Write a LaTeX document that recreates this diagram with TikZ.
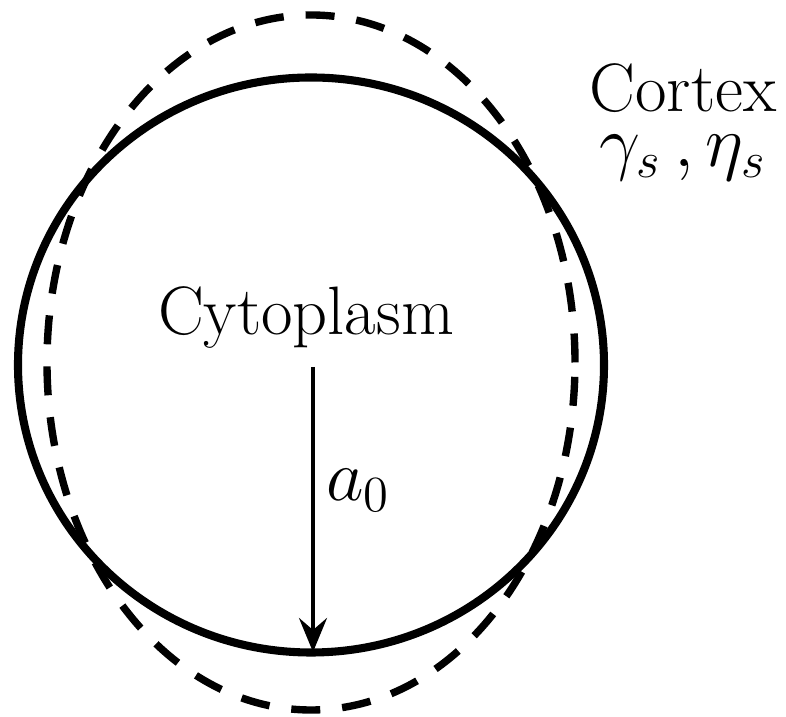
\documentclass[tikz,border=0pt]{standalone}
\usepackage{amsmath, amssymb}
\usepackage{xcolor}
\usepackage{tikz}
\usetikzlibrary{shapes.geometric, arrows.meta, positioning}
\tikzset{
  cellwall/.style={
    ellipse, draw=black, line width=2.3pt,
    inner sep=0pt, minimum width=5.86cm, minimum height=5.75cm
  },
  cortexwall/.style={
    ellipse, draw=black, line width=2.1pt,
    dash pattern=on 0.29cm off 0.22cm,
    inner sep=0pt, minimum width=5.28cm, minimum height=6.95cm
  },
  label/.style={
    font=\fontsize{19.5}{23}\selectfont, inner sep=0pt
  },
  radius/.style={
    -{Stealth[length=3.4mm,width=2.8mm,inset=1.2mm]},
    line width=1.1pt
  }
}

\begin{document}
\begin{tikzpicture}

  % ── Page frame ────────────────────────────────────────────────────────────
  \useasboundingbox (-3.11,-3.52) rectangle (4.75,3.65);

  % ── Cell outlines ─────────────────────────────────────────────────────────
  \node[cortexwall] (deformed) at (0,0.025) {};
  \node[cellwall] (cell) at (0,0) {};

  % ── Labels ────────────────────────────────────────────────────────────────
  \node[label] (cyto) at (-0.05,0.47) {Cytoplasm};
  \node[label] (cortex) at (3.72,2.77) {Cortex};
  \node[label] (params) at (3.72,2.07) {$\gamma_s\,,\eta_s$};

  % ── Radius ────────────────────────────────────────────────────────────────
  \coordinate (mid) at (0.02,-0.02);
  \coordinate (rim) at (0.02,-2.87);
  \draw[radius] (mid) -- (rim);
  \node[label] (a0) at (0.47,-1.25) {$a_0$};

\end{tikzpicture}
\end{document}
